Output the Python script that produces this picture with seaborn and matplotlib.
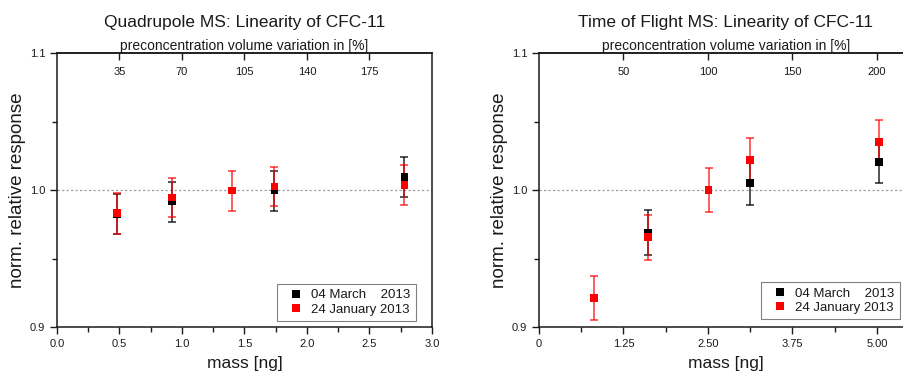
import matplotlib
matplotlib.use("Agg")
import matplotlib.pyplot as plt
from matplotlib.lines import Line2D
from matplotlib.ticker import MultipleLocator, FixedLocator, FixedFormatter
import seaborn as sns
import pandas as pd

# ---------------- data ----------------
label_mar = "04 March    2013"
label_jan = "24 January 2013"

# Quadrupole MS
q_mar_mass = [0.48, 0.92, 1.74, 2.78]
q_mar_resp = [0.9825, 0.9915, 0.9995, 1.0095]
q_mar_err = [0.0145, 0.0145, 0.0145, 0.0145]
q_jan_mass = [0.48, 0.92, 1.40, 1.74, 2.78]
q_jan_resp = [0.983, 0.9945, 0.9995, 1.0025, 1.0035]
q_jan_err = [0.015, 0.0145, 0.0145, 0.0145, 0.0145]

# Time of Flight MS
t_mar_mass = [1.61, 3.12, 5.03]
t_mar_resp = [0.969, 1.005, 1.0205]
t_mar_err = [0.0165, 0.016, 0.0155]
t_jan_mass = [0.81, 1.61, 2.51, 3.12, 5.03]
t_jan_resp = [0.921, 0.9655, 1.0, 1.022, 1.035]
t_jan_err = [0.016, 0.0165, 0.016, 0.016, 0.016]

q_title = "Quadrupole MS: Linearity of CFC-11"
t_title = "Time of Flight MS: Linearity of CFC-11"
top_label = "preconcentration volume variation in [%]"
q_pct_ticks = [35, 70, 105, 140, 175]
t_pct_ticks = [50, 100, 150, 200]
q_pct_per_ng = 70
t_pct_per_ng = 40
q_xticks = [0.0, 0.5, 1.0, 1.5, 2.0, 2.5, 3.0]
q_xticklabels = ["0.0", "0.5", "1.0", "1.5", "2.0", "2.5", "3.0"]
t_xticks = [0.0, 1.25, 2.5, 3.75, 5.0]
t_xticklabels = ["0", "1.25", "2.50", "3.75", "5.00"]
yticks = [0.9, 1.0, 1.1]
yticklabels = ["0.9", "1.0", "1.1"]

# ---------------- style ----------------
sns.set_theme(style="ticks")
plt.rcParams["font.family"] = ["Liberation Sans", "DejaVu Sans"]
for k in ["text.color", "axes.labelcolor", "xtick.color", "ytick.color", "axes.edgecolor"]:
    plt.rcParams[k] = "#1a1a1a"

BLACK = "#000000"
RED = "#ff0000"

fig = plt.figure(figsize=(9.04, 3.75), dpi=100)
ax1 = fig.add_axes([57 / 904, 1 - 327 / 375, (432 - 57) / 904, 274 / 375])
ax2 = fig.add_axes([539 / 904, 1 - 327 / 375, (913 - 539) / 904, 274 / 375])


def panel(ax, title, mar, jan, xlim, xticks, xticklabels, xminor, pct_per_ng, pct_ticks, leg_anchor):
    ax.axhline(1.0, color="#a0a0a0", lw=0.9, ls=(0, (1.8, 1.8)), zorder=1)
    rows = []
    for (mass, resp, err), lab, col, alpha in [(mar, label_mar, BLACK, 0.85), (jan, label_jan, RED, 0.8)]:
        ax.errorbar(mass, resp, yerr=err, fmt="none", ecolor=col, elinewidth=1.1,
                    capsize=3, capthick=1.1, alpha=alpha, zorder=2)
        for m, r in zip(mass, resp):
            rows.append({"mass": m, "resp": r, "date": lab})
    df = pd.DataFrame(rows)
    sns.scatterplot(data=df, x="mass", y="resp", hue="date",
                    palette={label_mar: BLACK, label_jan: RED},
                    marker="s", s=30, linewidth=0, ax=ax, legend=False, zorder=3)

    ax.set_xlim(*xlim)
    ax.set_ylim(0.9, 1.1)
    ax.xaxis.set_major_locator(FixedLocator(xticks))
    ax.xaxis.set_major_formatter(FixedFormatter(xticklabels))
    ax.xaxis.set_minor_locator(MultipleLocator(xminor))
    ax.yaxis.set_major_locator(FixedLocator(yticks))
    ax.yaxis.set_major_formatter(FixedFormatter(yticklabels))
    ax.yaxis.set_minor_locator(MultipleLocator(0.05))
    ax.tick_params(which="major", direction="out", length=5, width=1, labelsize=8, pad=3.5,
                   top=False, right=False)
    ax.tick_params(which="minor", direction="out", length=3.5, width=1, top=False, right=False)
    for sp in ax.spines.values():
        sp.set_linewidth(1.1)
        sp.set_color("#1a1a1a")

    ax.set_xlabel("mass [ng]", fontsize=12.5, labelpad=5)
    ax.set_ylabel("norm. relative response", fontsize=13.5, labelpad=2.5)
    ax.set_title(title, fontsize=12.5, y=1.095, pad=0)

    sec = ax.secondary_xaxis("top", functions=(lambda m: m * pct_per_ng, lambda p: p / pct_per_ng))
    sec.set_xticks(pct_ticks)
    sec.set_xticklabels([str(p) for p in pct_ticks])
    sec.tick_params(direction="in", length=5, width=1, labelsize=8, pad=-17.5)
    sec.xaxis.set_minor_locator(FixedLocator([]))
    sec.spines["top"].set_linewidth(1.1)
    sec.set_xlabel(top_label, fontsize=10, labelpad=2)

    handles = [Line2D([], [], ls="", marker="s", markersize=5.5, markeredgewidth=0, color=BLACK),
               Line2D([], [], ls="", marker="s", markersize=5.5, markeredgewidth=0, color=RED)]
    leg = ax.legend(handles, [label_mar, label_jan], loc="lower right", bbox_to_anchor=leg_anchor,
                    borderaxespad=0, fontsize=9.5, frameon=True, fancybox=False,
                    handlelength=2.1, handletextpad=0.1, borderpad=0.4, labelspacing=0.15)
    leg.get_frame().set_edgecolor("#808080")
    leg.get_frame().set_linewidth(0.8)
    leg.get_frame().set_alpha(1)


panel(ax1, q_title, (q_mar_mass, q_mar_resp, q_mar_err), (q_jan_mass, q_jan_resp, q_jan_err),
      (0, 3.0), q_xticks, q_xticklabels, 0.25, q_pct_per_ng, q_pct_ticks, (0.957, 0.022))
panel(ax2, t_title, (t_mar_mass, t_mar_resp, t_mar_err), (t_jan_mass, t_jan_resp, t_jan_err),
      (0, (913 - 539) / 67.6), t_xticks, t_xticklabels, 0.625, t_pct_per_ng, t_pct_ticks, (0.965, 0.029))

fig.savefig("out.png", dpi=100)
